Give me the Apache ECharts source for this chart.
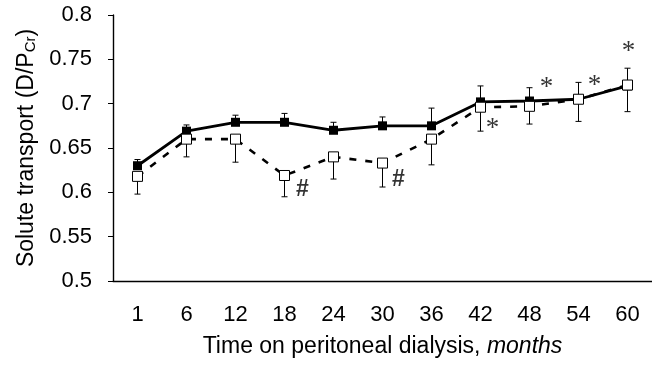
<!DOCTYPE html>
<html>
<head>
<meta charset="utf-8">
<script src="https://cdn.jsdelivr.net/npm/echarts@6/dist/echarts.min.js"></script>
<style>
  html, body { margin: 0; padding: 0; background: #fff; }
  #chart { width: 652px; height: 366px; }
</style>
</head>
<body>
<div id="chart"></div>
<script>
// months on PD
const months = ["1", "6", "12", "18", "24", "30", "36", "42", "48", "54", "60"];

// filled squares, solid line (error bar goes up)
const solidMean = [0.630, 0.669, 0.679, 0.679, 0.670, 0.675, 0.675, 0.702, 0.703, 0.705, 0.720];
const solidUpper = [0.637, 0.676, 0.687, 0.689, 0.679, 0.685, 0.695, 0.720, 0.718, 0.724, 0.740];

// open squares, dashed line (error bar goes down)
const openMean = [0.618, 0.660, 0.660, 0.619, 0.640, 0.633, 0.660, 0.696, 0.697, 0.705, 0.721];
const openLower = [0.598, 0.640, 0.634, 0.595, 0.615, 0.606, 0.631, 0.669, 0.677, 0.680, 0.691];

// significance marks
const markCats = ["18", "30", "42", "48", "54", "60"];
const markValues = [0.6025, 0.614, 0.678, 0.724, 0.727, 0.765];
const markTexts = ["#", "#", "*", "*", "*", "*"];

const yTicks = { min: 0.5, max: 0.8, step: 0.05 };

const markOffsets = [18, 16, 12, 17, 16, 1];

const font = "Liberation Sans, Arial, Helvetica, sans-serif";

function errBar() {
  return function (params, api) {
    const a = api.coord([api.value(0), api.value(1)]);
    const b = api.coord([api.value(0), api.value(2)]);
    const cap = 3;
    const style = { stroke: "#000", lineWidth: 1 };
    return {
      type: "group",
      children: [
        { type: "line", shape: { x1: a[0], y1: a[1], x2: b[0], y2: b[1] }, style: style },
        { type: "line", shape: { x1: b[0] - cap, y1: b[1], x2: b[0] + cap, y2: b[1] }, style: style }
      ]
    };
  };
}

const chart = echarts.init(document.getElementById("chart"));

chart.setOption({
  animation: false,
  grid: { left: 113, right: 0, top: 15, bottom: 85 },
  xAxis: {
    type: "category",
    data: months,
    boundaryGap: true,
    axisLine: { lineStyle: { color: "#000", width: 1.4 } },
    axisTick: { length: 5, lineStyle: { color: "#000" } },
    axisLabel: { color: "#000", fontSize: 22, fontFamily: font, margin: 23 },
    name: "{a|Time on peritoneal dialysis, }{i|months}",
    nameLocation: "middle",
    nameGap: 54,
    nameTextStyle: {
      rich: {
        a: { fontSize: 23, fontFamily: font, color: "#000" },
        i: { fontSize: 23, fontFamily: font, color: "#000", fontStyle: "italic" }
      }
    }
  },
  yAxis: {
    type: "value",
    min: yTicks.min,
    max: yTicks.max,
    interval: yTicks.step,
    splitLine: { show: false },
    axisLine: { show: true, lineStyle: { color: "#000", width: 1.4 } },
    axisTick: { show: true, length: 5, lineStyle: { color: "#000" } },
    axisLabel: {
      color: "#000", fontSize: 22, fontFamily: font, margin: 21,
      formatter: (v) => String(Math.round(v * 100) / 100)
    },
    name: "{a|Solute transport (D/P}{s|Cr}{a|)}",
    nameLocation: "middle",
    nameGap: 74,
    nameTextStyle: {
      rich: {
        a: { fontSize: 23, fontFamily: font, color: "#000" },
        s: { fontSize: 15, fontFamily: font, color: "#000", padding: [9, 0, 0, 0] }
      }
    }
  },
  series: [
    {
      type: "custom",
      renderItem: errBar(),
      data: months.map((m, i) => [i, solidMean[i], solidUpper[i]]),
      z: 1
    },
    {
      type: "custom",
      renderItem: errBar(),
      data: months.map((m, i) => [i, openMean[i], openLower[i]]),
      z: 1
    },
    {
      name: "dashed",
      type: "line",
      data: openMean,
      symbol: "none",
      lineStyle: { color: "#000", width: 2.6, type: [7, 9] },
      z: 2
    },
    {
      name: "solid",
      type: "line",
      data: solidMean,
      symbol: "rect",
      symbolSize: 9,
      itemStyle: { color: "#000" },
      lineStyle: { color: "#000", width: 2.8 },
      z: 3
    },
    {
      name: "open",
      type: "scatter",
      data: openMean,
      symbol: "rect",
      symbolSize: 10,
      itemStyle: { color: "#fff", borderColor: "#000", borderWidth: 1, opacity: 1 },
      z: 4
    },
    {
      type: "scatter",
      symbolSize: 0,
      data: markCats.map((c, i) => ({
        value: [c, markValues[i]],
        label: {
          show: true,
          position: "inside",
          offset: [markOffsets[i], markTexts[i] === "*" ? 6 : 0],
          formatter: markTexts[i],
          color: "#000",
          fontSize: markTexts[i] === "*" ? 27 : 23,
          fontWeight: markTexts[i] === "*" ? "normal" : "bold",
          fontFamily: markTexts[i] === "*" ? "Liberation Serif, serif" : font
        }
      })),
      z: 5
    }
  ]
});
</script>
</body>
</html>
